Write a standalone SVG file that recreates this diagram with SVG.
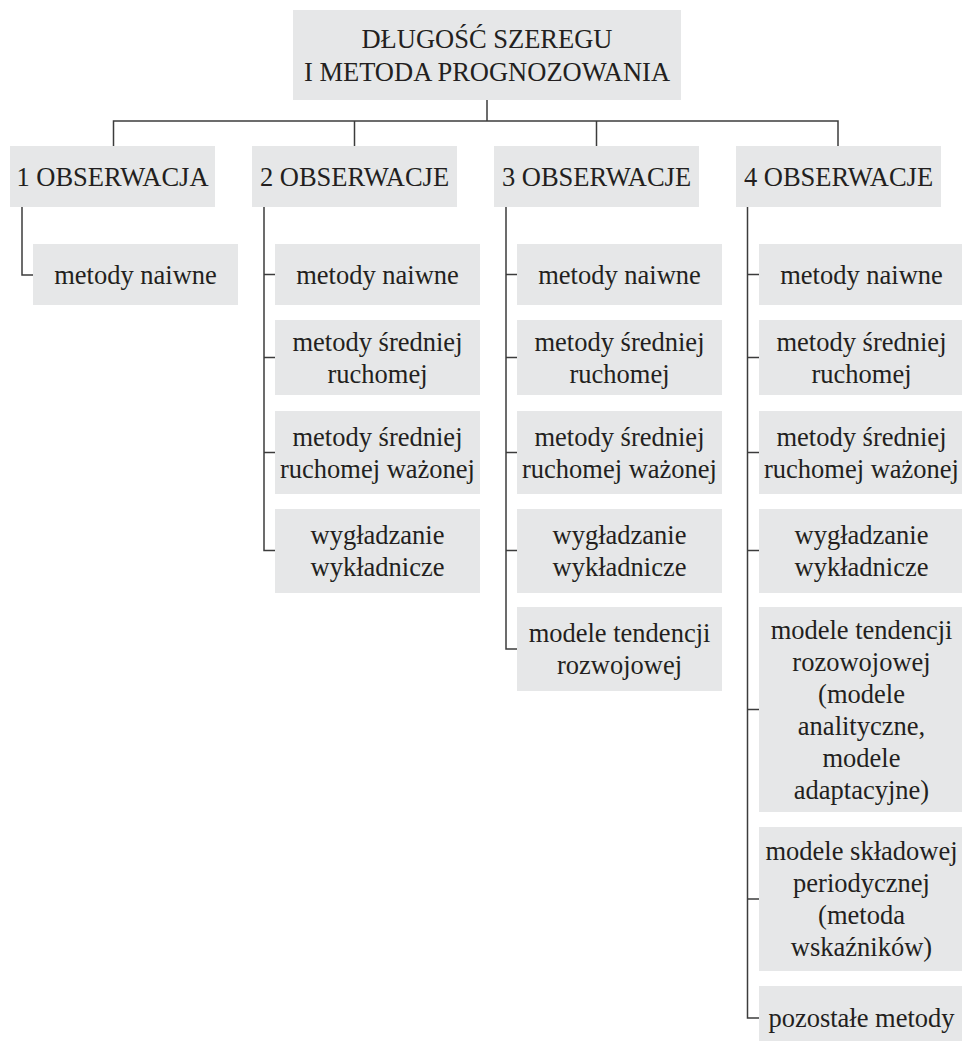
<svg xmlns="http://www.w3.org/2000/svg" width="962" height="1041" viewBox="0 0 962 1041">
<style>
.box{fill:#e6e7e8;}
.t{font-family:'Liberation Serif','Times New Roman',serif;font-size:26.5px;fill:#231f20;text-anchor:middle;}
.c{fill:none;stroke:#3c3c3c;stroke-width:1.5;}
</style>
<rect width="962" height="1041" fill="#ffffff"/>
<g id="connectors">
<path class="c" d="M487,100 V121 M113.5,146 V121 H838 V146 M354.5,121 V146 M596.5,121 V146"/>
<path class="c" d="M22,207 V275 H33"/>
<path class="c" d="M264,207 V550.5 H275 M264,274.5 H275 M264,357.5 H275 M264,452.5 H275"/>
<path class="c" d="M506,207 V649 H517 M506,274.5 H517 M506,357.5 H517 M506,452.5 H517 M506,550.5 H517"/>
<path class="c" d="M747.5,207 V1018 H759 M747.5,274.5 H759 M747.5,357.5 H759 M747.5,452.5 H759 M747.5,550.5 H759 M747.5,709.5 H759 M747.5,899 H759"/>
</g>
<g id="root"><rect class="box" x="293" y="10" width="388" height="90"/>
<text class="t" x="487" y="48">DŁUGOŚĆ SZEREGU</text><text class="t" x="487" y="81">I METODA PROGNOZOWANIA</text></g>
<g id="obs1"><rect class="box" x="10" y="146" width="205" height="61"/><text class="t" x="112.5" y="186">1 OBSERWACJA</text></g>
<g id="obs2"><rect class="box" x="252" y="146" width="205" height="61"/><text class="t" x="354.5" y="186">2 OBSERWACJE</text></g>
<g id="obs3"><rect class="box" x="494" y="146" width="205" height="61"/><text class="t" x="596.5" y="186">3 OBSERWACJE</text></g>
<g id="obs4"><rect class="box" x="736" y="146" width="205" height="61"/><text class="t" x="838.5" y="186">4 OBSERWACJE</text></g>

<g id="c1-1"><rect class="box" x="33" y="244" width="205" height="61"/><text class="t" x="135.5" y="284">metody naiwne</text></g>

<g id="c2-1"><rect class="box" x="275" y="244" width="205" height="61"/><text class="t" x="377.5" y="284">metody naiwne</text></g>
<g id="c2-2"><rect class="box" x="275" y="320" width="205" height="75"/><text class="t" x="377.5" y="351">metody średniej</text><text class="t" x="377.5" y="383">ruchomej</text></g>
<g id="c2-3"><rect class="box" x="275" y="411" width="205" height="83"/><text class="t" x="377.5" y="445.5">metody średniej</text><text class="t" x="377.5" y="477.5">ruchomej ważonej</text></g>
<g id="c2-4"><rect class="box" x="275" y="509" width="205" height="84"/><text class="t" x="377.5" y="543.5">wygładzanie</text><text class="t" x="377.5" y="575.5">wykładnicze</text></g>

<g id="c3-1"><rect class="box" x="517" y="244" width="205" height="61"/><text class="t" x="619.5" y="284">metody naiwne</text></g>
<g id="c3-2"><rect class="box" x="517" y="320" width="205" height="75"/><text class="t" x="619.5" y="351">metody średniej</text><text class="t" x="619.5" y="383">ruchomej</text></g>
<g id="c3-3"><rect class="box" x="517" y="411" width="205" height="83"/><text class="t" x="619.5" y="445.5">metody średniej</text><text class="t" x="619.5" y="477.5">ruchomej ważonej</text></g>
<g id="c3-4"><rect class="box" x="517" y="509" width="205" height="84"/><text class="t" x="619.5" y="543.5">wygładzanie</text><text class="t" x="619.5" y="575.5">wykładnicze</text></g>
<g id="c3-5"><rect class="box" x="517" y="607" width="205" height="84"/><text class="t" x="619.5" y="641.5">modele tendencji</text><text class="t" x="619.5" y="673.5">rozwojowej</text></g>

<g id="c4-1"><rect class="box" x="759" y="244" width="205" height="61"/><text class="t" x="861.5" y="284">metody naiwne</text></g>
<g id="c4-2"><rect class="box" x="759" y="320" width="205" height="75"/><text class="t" x="861.5" y="351">metody średniej</text><text class="t" x="861.5" y="383">ruchomej</text></g>
<g id="c4-3"><rect class="box" x="759" y="411" width="205" height="83"/><text class="t" x="861.5" y="445.5">metody średniej</text><text class="t" x="861.5" y="477.5">ruchomej ważonej</text></g>
<g id="c4-4"><rect class="box" x="759" y="509" width="205" height="84"/><text class="t" x="861.5" y="543.5">wygładzanie</text><text class="t" x="861.5" y="575.5">wykładnicze</text></g>
<g id="c4-5"><rect class="box" x="759" y="607" width="205" height="205"/>
<text class="t" x="861.5" y="638.5">modele tendencji</text><text class="t" x="861.5" y="670.5">rozowojowej</text><text class="t" x="861.5" y="702.5">(modele</text><text class="t" x="861.5" y="734.5">analityczne,</text><text class="t" x="861.5" y="766.5">modele</text><text class="t" x="861.5" y="798.5">adaptacyjne)</text></g>
<g id="c4-6"><rect class="box" x="759" y="827" width="205" height="144"/>
<text class="t" x="861.5" y="860">modele składowej</text><text class="t" x="861.5" y="892">periodycznej</text><text class="t" x="861.5" y="924">(metoda</text><text class="t" x="861.5" y="956">wskaźników)</text></g>
<g id="c4-7"><rect class="box" x="759" y="986" width="205" height="64"/><text class="t" x="861.5" y="1027">pozostałe metody</text></g>
</svg>
